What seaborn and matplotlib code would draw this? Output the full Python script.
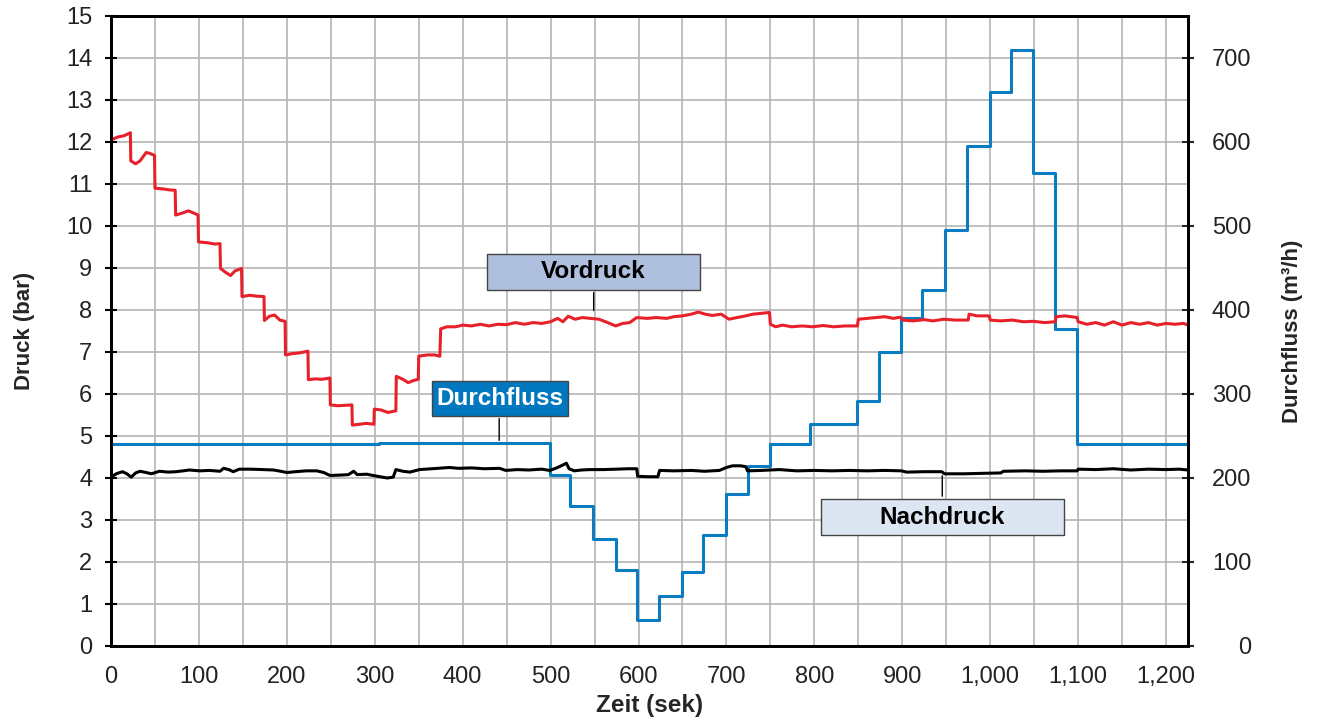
import matplotlib
matplotlib.use("Agg")
import matplotlib.pyplot as plt
import matplotlib.ticker as ticker
from matplotlib.patches import Rectangle
import seaborn as sns

# Vordruck (bar)
vor_t = [0, 8, 15, 22, 22.5, 28, 33, 40, 44, 49.5,
         50, 60, 66, 73, 73.5, 80, 88, 95, 99, 99.5, 110, 118, 124,
         124.5, 130, 136, 141, 148.5, 149, 158, 165, 174, 174.5, 180, 186, 192, 198,
         198.5, 206, 215, 224, 224.5, 232, 240, 249, 249.5, 258, 266, 274,
         274.5, 283, 290, 299, 299.5, 307, 315, 324, 324.5, 332, 338, 344, 349.5,
         350, 360, 368, 374, 375, 382, 392, 400, 410, 420, 430, 440, 450, 460,
         470, 480, 490, 500, 508, 514, 520, 528, 536, 545, 555, 565, 574, 582,
         590, 598, 610, 620, 632, 640, 650, 660, 668, 676, 684, 694, 703, 712,
         722, 730, 740, 749, 750, 756, 764, 774, 786, 798, 810, 822, 835, 849,
         850, 860, 870, 880, 890, 898, 900, 912, 925, 935, 947, 960, 975,
         976, 985, 999, 1000, 1012, 1025, 1038, 1049, 1062, 1074,
         1075, 1085, 1099, 1100, 1110, 1120, 1130, 1140, 1150, 1160, 1170,
         1180, 1190, 1200, 1210, 1220, 1225]
vor_p = [12.05, 12.12, 12.15, 12.22, 11.55, 11.48, 11.55, 11.75, 11.73, 11.68,
         10.9, 10.88, 10.86, 10.85, 10.26, 10.3, 10.36, 10.3, 10.26, 9.62, 9.6, 9.57, 9.58,
         8.99, 8.9, 8.82, 8.93, 8.99, 8.32, 8.35, 8.33, 8.32, 7.75, 7.85, 7.88, 7.76, 7.73,
         6.93, 6.96, 6.98, 7.02, 6.34, 6.36, 6.35, 6.38, 5.74, 5.72, 5.73, 5.74,
         5.26, 5.28, 5.3, 5.28, 5.64, 5.62, 5.56, 5.6, 6.42, 6.35, 6.27, 6.32, 6.35,
         6.9, 6.93, 6.93, 6.9, 7.55, 7.6, 7.6, 7.64, 7.62, 7.66, 7.62, 7.66, 7.65, 7.7,
         7.66, 7.7, 7.68, 7.72, 7.8, 7.72, 7.85, 7.78, 7.82, 7.8, 7.78, 7.7, 7.62, 7.68,
         7.7, 7.82, 7.8, 7.82, 7.8, 7.84, 7.86, 7.9, 7.95, 7.9, 7.87, 7.9, 7.78, 7.82,
         7.86, 7.9, 7.92, 7.94, 7.66, 7.6, 7.64, 7.6, 7.62, 7.6, 7.63, 7.6, 7.62, 7.62,
         7.78, 7.8, 7.82, 7.84, 7.8, 7.83, 7.76, 7.74, 7.77, 7.74, 7.78, 7.76, 7.76,
         7.9, 7.86, 7.86, 7.76, 7.74, 7.76, 7.72, 7.73, 7.7, 7.72,
         7.84, 7.86, 7.82, 7.72, 7.66, 7.7, 7.64, 7.72, 7.64, 7.7, 7.66,
         7.7, 7.64, 7.68, 7.66, 7.68, 7.64]

# Nachdruck (bar) - black trace
nach_t = [0, 6, 13, 18, 23, 28, 33, 40, 46, 55, 65, 74, 82, 89, 101, 112, 124,
          128, 134, 139, 146, 158, 173, 185, 193, 200, 210, 222, 234, 242, 249,
          262, 270, 276, 280, 291, 298, 306, 314, 321, 324, 332, 340, 351, 365,
          385, 395, 410, 425, 442, 449, 462, 475, 490, 499, 507, 513, 518, 521,
          527, 535, 545, 560, 575, 588, 598, 599, 610, 622, 624, 640, 660, 675,
          692, 700, 707, 716, 722, 724, 740, 760, 780, 800, 820, 840, 860, 880,
          899, 905, 925, 945, 948, 970, 990, 1012, 1015, 1040, 1060, 1080, 1099,
          1100, 1120, 1140, 1160, 1180, 1200, 1215, 1225]
nach_p = [4.02, 4.1, 4.15, 4.1, 4.02, 4.12, 4.16, 4.13, 4.1, 4.16, 4.14, 4.15, 4.17, 4.19, 4.17, 4.18, 4.16,
          4.23, 4.2, 4.15, 4.21, 4.21, 4.2, 4.19, 4.16, 4.13, 4.15, 4.17, 4.17, 4.13, 4.06,
          4.07, 4.08, 4.16, 4.08, 4.09, 4.06, 4.03, 4.0, 4.02, 4.2, 4.16, 4.14, 4.2, 4.22,
          4.25, 4.23, 4.24, 4.22, 4.23, 4.18, 4.2, 4.19, 4.21, 4.18, 4.24, 4.3, 4.35, 4.22,
          4.17, 4.19, 4.2, 4.2, 4.21, 4.22, 4.22, 4.04, 4.03, 4.03, 4.18, 4.17, 4.18, 4.16,
          4.18, 4.25, 4.29, 4.29, 4.27, 4.17, 4.18, 4.2, 4.17, 4.18, 4.17, 4.18, 4.17, 4.18,
          4.17, 4.14, 4.15, 4.15, 4.1, 4.1, 4.11, 4.12, 4.16, 4.17, 4.16, 4.17, 4.17,
          4.21, 4.2, 4.22, 4.19, 4.21, 4.2, 4.21, 4.19]

# Durchfluss (m3/h) - blue trace, step starts and levels
flow_t = [0, 305, 499.5, 522, 548.5, 574, 598.5, 623, 649, 673.7, 699, 724,
          749.5, 795, 849, 874, 899, 923, 948.6, 974, 1000, 1024, 1049, 1074,
          1099, 1225]
flow_v = [240.5, 241.5, 203, 167, 127, 90, 31, 60, 88.5, 132, 181, 214,
          240.5, 264, 292, 350, 391, 424, 495, 595, 660, 710, 563, 377,
          241, 241]

red = "#e8202a"
blue = "#0a7cc1"

sns.set_style("white")
plt.rcParams["font.family"] = ["Liberation Sans", "DejaVu Sans"]

fig = plt.figure(figsize=(13.2, 7.2), dpi=100)
ax = fig.add_axes([0.0841, 0.1028, 0.8159, 0.875])
ax2 = ax.twinx()

# flow axis sits underneath and carries the grid
ax2.set_zorder(0)
ax.set_zorder(1)
ax.patch.set_visible(False)
ax2.patch.set_visible(True)
ax2.patch.set_facecolor("white")

sns.lineplot(x=flow_t, y=flow_v, ax=ax2, color=blue, linewidth=2.2,
             estimator=None, sort=False, drawstyle="steps-post")
sns.lineplot(x=nach_t, y=nach_p, ax=ax, color="black", linewidth=2.2,
             estimator=None, sort=False)
sns.lineplot(x=vor_t, y=vor_p, ax=ax, color=red, linewidth=2.2,
             estimator=None, sort=False)

ax.set_xlim(0, 1225)
ax.set_ylim(0, 15)
ax2.set_ylim(0, 750)

ax.xaxis.set_major_locator(ticker.MultipleLocator(100))
ax.xaxis.set_minor_locator(ticker.MultipleLocator(50))
ax.xaxis.set_major_formatter(ticker.FuncFormatter(lambda v, p: f"{v:,.0f}"))
ax.yaxis.set_major_locator(ticker.MultipleLocator(1))
ax2.yaxis.set_major_locator(ticker.MultipleLocator(100))
ax2.yaxis.set_minor_locator(ticker.MultipleLocator(50))

ax2.xaxis.set_visible(True)
ax2.tick_params(axis="x", which="both", length=0, labelbottom=False, labeltop=False)
ax2.set_axisbelow(True)
ax2.grid(True, which="both", axis="both", color="#b4b4b4", linewidth=1.2)
ax.grid(False)

ax.tick_params(axis="both", which="both", direction="inout", length=9, width=1.5,
               labelsize=17, colors="black", labelcolor="#222222")
ax.tick_params(axis="x", pad=10)
ax.tick_params(axis="y", pad=9)
ax2.tick_params(axis="y", which="major", direction="inout", length=9, width=1.5,
                labelsize=17, labelcolor="#222222", pad=41)
ax2.tick_params(axis="y", which="minor", length=0)
for lab in ax2.get_yticklabels():
    lab.set_horizontalalignment("right")

for a in (ax, ax2):
    for s in a.spines.values():
        s.set_linewidth(2)
        s.set_color("black")

ax.set_xlabel("Zeit (sek)", fontsize=17.5, fontweight="bold", labelpad=4)
ax.set_ylabel("Druck (bar)", fontsize=16, fontweight="bold", labelpad=22)
ax2.set_ylabel("Durchfluss (m³/h)", fontsize=16, fontweight="bold", labelpad=22)

# callout boxes
boxes = [
    ("Vordruck", 427.7, 8.48, 242.3, 0.85, "#afc0de", "black", 549, 7.92),
    ("Durchfluss", 365, 5.48, 155, 0.83, "#0077bf", "white", 441.5, 4.83),
    ("Nachdruck", 807.6, 2.64, 276.4, 0.86, "#dce6f2", "black", 945.5, 4.12),
]
for label, x0, y0, w, h, fc, tc, lx, ly in boxes:
    ax.add_patch(Rectangle((x0, y0), w, h, facecolor=fc, edgecolor="#444444",
                           linewidth=1, zorder=5))
    ax.text(x0 + w / 2, y0 + h / 2, label, ha="center", va="center",
            fontsize=17.5, fontweight="bold", color=tc, zorder=6)
    ystart = y0 if ly < y0 else y0 + h
    ax.annotate("", xy=(lx, ly), xytext=(lx, ystart),
                arrowprops=dict(arrowstyle="-", color="black", lw=1), zorder=4)

fig.savefig("out.png", dpi=100, facecolor="white")
